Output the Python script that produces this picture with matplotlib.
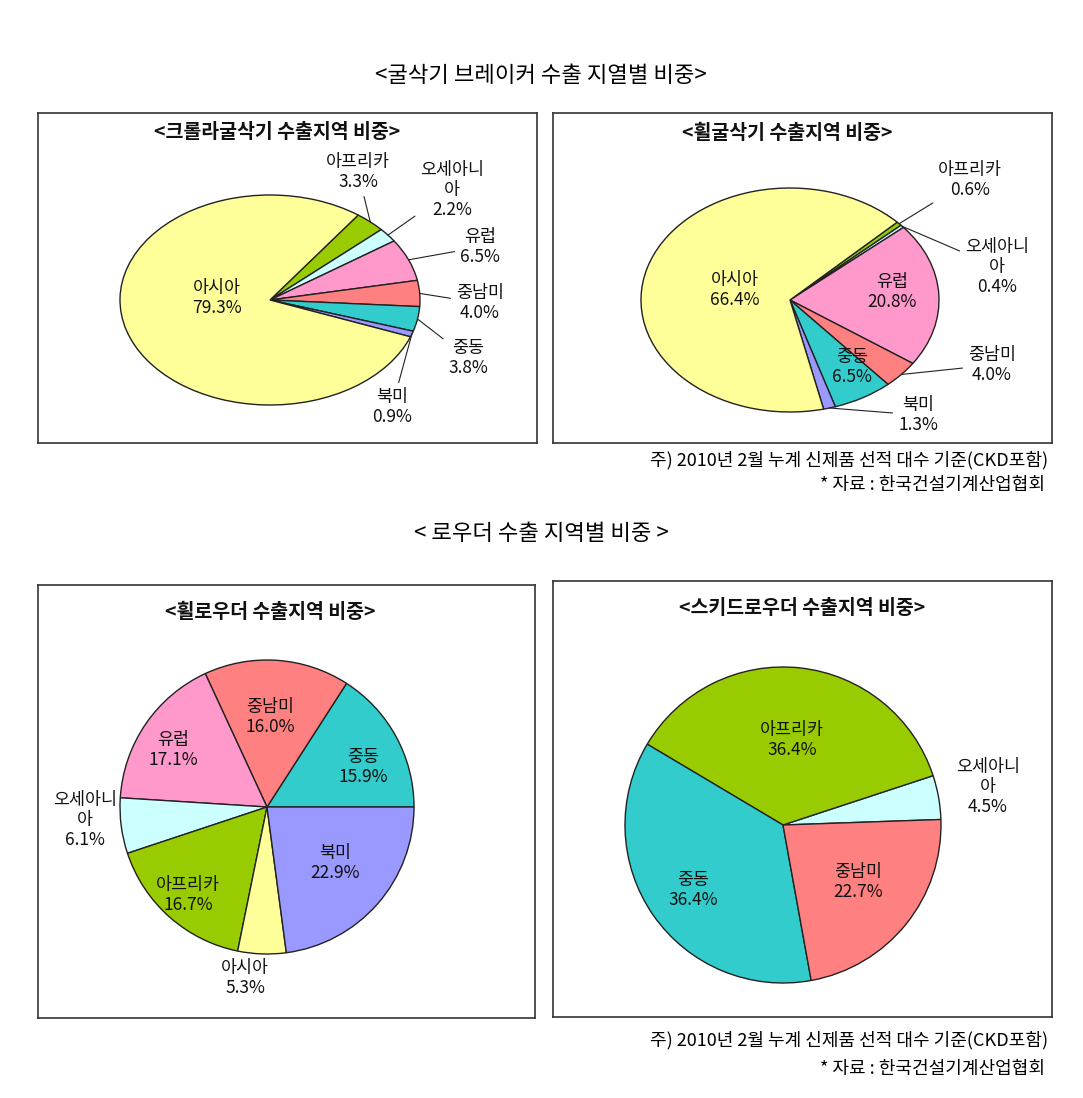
import matplotlib.pyplot as plt
import numpy as np

plt.rcParams['font.family'] = ['Noto Sans CJK KR', 'DejaVu Sans']

W, H = 1083, 1098

# 데이터 (단위: %)
crawler_regions = ['아프리카', '오세아니아', '유럽', '중남미', '중동', '북미', '아시아']
crawler_share = [3.3, 2.2, 6.5, 4.0, 3.8, 0.9, 79.3]

wheel_ex_regions = ['아프리카', '오세아니아', '유럽', '중남미', '중동', '북미', '아시아']
wheel_ex_share = [0.6, 0.4, 20.8, 4.0, 6.5, 1.3, 66.4]

wheel_ld_regions = ['중동', '중남미', '유럽', '오세아니아', '아프리카', '아시아', '북미']
wheel_ld_share = [15.9, 16.0, 17.1, 6.1, 16.7, 5.3, 22.9]

skid_regions = ['오세아니아', '아프리카', '중동', '중남미']
skid_share = [4.5, 36.4, 36.4, 22.7]

region_colors = {
    '아시아': '#FFFF99', '아프리카': '#99CC00', '오세아니아': '#CCFFFF',
    '유럽': '#FF99CC', '중남미': '#FF8080', '중동': '#33CCCC', '북미': '#9999FF',
}
label_names = {'오세아니아': '오세아니\n아'}


def draw_pie(fig, box, center, radii, regions, shares, start, ccw,
             title, title_xy, label_xy, leaders):
    x0, y0, x1, y1 = box
    cx, cy = center
    rx, ry = radii
    ax = fig.add_axes([x0 / W, 1 - y1 / H, (x1 - x0) / W, (y1 - y0) / H])
    wedges, _ = ax.pie(shares, colors=[region_colors[r] for r in regions],
                       startangle=start, counterclock=ccw,
                       wedgeprops=dict(edgecolor='#222222', linewidth=1))
    ax.set_aspect('auto')
    ax.set_xlim((x0 - cx) / rx, (x1 - cx) / rx)
    ax.set_ylim((cy - y1) / ry, (cy - y0) / ry)
    ax.set_frame_on(True)
    for s in ax.spines.values():
        s.set_color('#333333')
        s.set_linewidth(1.2)

    def to_data(p):
        return ((p[0] - cx) / rx, (cy - p[1]) / ry)

    ax.text(*to_data(title_xy), title, ha='center', va='center',
            fontsize=14, fontweight='bold', color='#111111')

    for w, r, v, pos in zip(wedges, regions, shares, label_xy):
        txt = f"{label_names.get(r, r)}\n{v:.1f}%"
        if r in leaders:
            mid = np.deg2rad((w.theta1 + w.theta2) / 2)
            ax.annotate(txt, xy=(np.cos(mid), np.sin(mid)), xytext=to_data(pos),
                        ha='center', va='center', fontsize=12.5, linespacing=1.15,
                        color='#111111',
                        arrowprops=dict(arrowstyle='-', color='#222222', lw=0.8,
                                        shrinkA=2, shrinkB=0))
        else:
            ax.text(*to_data(pos), txt, ha='center', va='center', fontsize=12.5,
                    linespacing=1.15, color='#111111')
    return ax


fig = plt.figure(figsize=(W / 100, H / 100), dpi=100)

def px(x, y):
    return (x / W, 1 - y / H)

fig.text(*px(541, 75), '<굴삭기 브레이커 수출 지열별 비중>', ha='center', va='center', fontsize=16)

draw_pie(fig, (38, 113, 537, 443), (270, 300), (150, 105),
         crawler_regions, crawler_share, 54, False,
         '<크롤라굴삭기 수출지역 비중>', (277, 133),
         [(358, 172), (452, 190), (480, 247), (480, 303), (468, 358), (392, 407), (217, 298)],
         ['아프리카', '오세아니아', '유럽', '중남미', '중동', '북미'])

draw_pie(fig, (553, 113, 1052, 443), (790, 300), (149, 112),
         wheel_ex_regions, wheel_ex_share, 44, False,
         '<휠굴삭기 수출지역 비중>', (787, 133),
         [(970, 180), (997, 267), (892, 292), (992, 365), (852, 367), (918, 415), (735, 290)],
         ['아프리카', '오세아니아', '중남미', '북미'])

fig.text(*px(1048, 460), '주) 2010년 2월 누계 신제품 선적 대수 기준(CKD포함)', ha='right', va='center', fontsize=13)
fig.text(*px(1045, 485), '* 자료 : 한국건설기계산업협회', ha='right', va='center', fontsize=13)

fig.text(*px(541, 533), '< 로우더 수출 지역별 비중 >', ha='center', va='center', fontsize=16)

draw_pie(fig, (38, 585, 535, 1018), (267, 807), (147, 147),
         wheel_ld_regions, wheel_ld_share, 0, True,
         '<휠로우더 수출지역 비중>', (270, 612),
         [(363, 767), (270, 717), (173, 750), (85, 820), (188, 895), (245, 978), (335, 863)],
         [])

draw_pie(fig, (553, 581, 1052, 1017), (783, 825), (158, 158),
         skid_regions, skid_share, 2, True,
         '<스키드로우더 수출지역 비중>', (802, 608),
         [(988, 787), (792, 740), (693, 890), (858, 882)],
         [])

fig.text(*px(1048, 1040), '주) 2010년 2월 누계 신제품 선적 대수 기준(CKD포함)', ha='right', va='center', fontsize=13)
fig.text(*px(1045, 1069), '* 자료 : 한국건설기계산업협회', ha='right', va='center', fontsize=13)

fig.savefig('out.png', dpi=100)
